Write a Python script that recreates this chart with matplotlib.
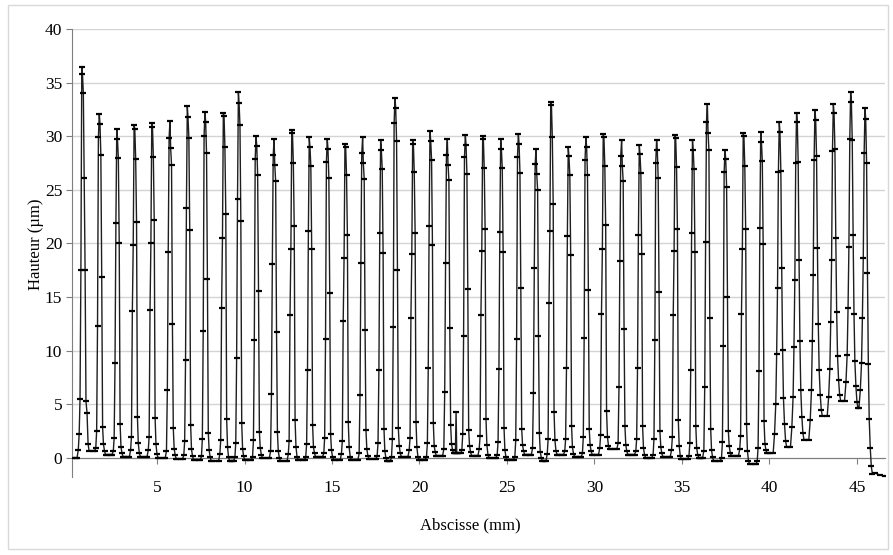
"""Profil de hauteur le long de l'abscisse (profilometre)."""
import matplotlib
matplotlib.use("Agg")
import matplotlib.pyplot as plt
from matplotlib.patches import Rectangle

plt.rcParams.update({
    "font.family": ["Liberation Serif", "DejaVu Serif"],
    "font.size": 12,
})

# ---- data ----
# x of each peak top (mm) and its height (um)
peak_x = [0.70, 1.70, 2.70, 3.69, 4.70, 5.74, 6.73, 7.74, 8.79, 9.65,
          10.66, 11.69, 12.70, 13.70, 14.73, 15.74, 16.75, 17.78, 18.60, 19.61,
          20.60, 21.59, 22.62, 23.61, 24.64, 25.65, 26.66, 27.50, 28.50, 29.51,
          30.50, 31.55, 32.56, 33.55, 34.60, 35.60, 36.45, 37.46, 38.50, 39.50,
          40.56, 41.55, 42.60, 43.65, 44.64, 45.46]
peak_top = [36.5, 32.1, 30.7, 31.0, 31.2, 31.4, 32.8, 32.3, 32.2, 34.1,
            30.0, 29.7, 30.6, 29.9, 29.7, 29.3, 29.9, 29.6, 33.6, 29.6,
            30.5, 29.7, 30.1, 30.0, 29.7, 30.2, 28.8, 33.2, 29.0, 29.9,
            30.2, 29.6, 29.2, 29.6, 30.1, 29.6, 33.0, 28.7, 30.3, 30.4,
            31.3, 32.2, 32.4, 33.0, 34.1, 32.6]
# which sampled shape each peak looks like (see shapes below)
peak_shape = ["F", "A", "C", "B", "B", "D", "C", "A", "B", "C",
              "A", "D", "B", "C", "A", "B", "D", "C", "A", "B",
              "C", "D", "A", "B", "C", "A", "D", "B", "C", "A",
              "B", "D", "C", "A", "B", "C", "D", "A", "B", "C",
              "E", "E", "E", "E", "E", "E"]
# valley level before the first peak, between peaks, after the last one
valley = [0.0, 0.6, 0.3, 0.1, 0.1, 0.0, -0.1, -0.2, -0.3, -0.3,
          -0.2, 0.0, -0.3, -0.2, 0.1, -0.2, -0.2, -0.1, -0.3, 0.1,
          -0.2, 0.2, 0.4, 0.2, 0.0, -0.2, 0.3, -0.3, 0.3, 0.1,
          0.3, 0.8, 0.3, 0.0, 0.1, -0.1, 0.0, -0.3, 0.2, -0.6,
          0.4, 1.0, 1.7, 3.9, 5.3, 4.6, -1.5]

# sample offsets around a peak top (mm)
rise_dx = [-0.35, -0.27, -0.20, -0.15, -0.10, -0.05, 0.00]
fall_dx = [0.04, 0.09, 0.14, 0.19, 0.24, 0.30, 0.36, 0.42]
# fraction of the peak height at those samples, read from typical peaks
rise_frac = {
    "A": [0.0, 0.0, 0.01, 0.06, 0.37, 0.93, 1.0],
    "B": [0.0, 0.0, 0.02, 0.06, 0.44, 0.64, 1.0],
    "C": [0.0, 0.0, 0.01, 0.05, 0.28, 0.71, 1.0],
    "D": [0.0, 0.0, 0.02, 0.20, 0.61, 0.95, 1.0],
    "E": [0.0, 0.06, 0.15, 0.30, 0.50, 0.85, 1.0],
    "F": [0.0, 0.0, 0.02, 0.06, 0.15, 0.48, 1.0],
}
fall_frac = {
    "A": [0.97, 0.88, 0.52, 0.08, 0.03, 0.01, 0.0, 0.0],
    "B": [0.99, 0.90, 0.71, 0.12, 0.04, 0.01, 0.0, 0.0],
    "C": [0.97, 0.91, 0.65, 0.10, 0.03, 0.01, 0.0, 0.0],
    "D": [0.92, 0.87, 0.40, 0.09, 0.03, 0.01, 0.0, 0.0],
    "E": [0.97, 0.85, 0.55, 0.30, 0.15, 0.07, 0.02, 0.0],
    "F": [0.98, 0.93, 0.71, 0.47, 0.13, 0.10, 0.02, 0.0],
}

# start of the trace, thin spike near 22 mm, tail after the last peak
head_x, head_y = [0.15], [0.0]
spike_x, spike_y = [22.05, 22.09, 22.13], [0.4, 4.3, 0.4]
tail_x, tail_y = [46.05, 46.30, 46.60], [-1.45, -1.60, -1.75]

# ---- build the trace ----
xs, ys = list(head_x), list(head_y)
for i, (px, top, sh) in enumerate(zip(peak_x, peak_top, peak_shape)):
    lo_l, lo_r = valley[i], valley[i + 1]
    for dx, f in zip(rise_dx, rise_frac[sh]):
        xs.append(px + dx)
        ys.append(lo_l + f * (top - lo_l))
    for dx, f in zip(fall_dx, fall_frac[sh]):
        xs.append(px + dx)
        ys.append(lo_r + f * (top - lo_r))
xs += spike_x + tail_x
ys += spike_y + tail_y
order = sorted(range(len(xs)), key=lambda k: xs[k])
xs = [xs[k] for k in order]
ys = [ys[k] for k in order]

# ---- figure ----
fig = plt.figure(figsize=(8.93, 5.55), dpi=100)
ax = fig.add_axes([0.0806, 0.1405, 0.9104, 0.8072])

ax.plot(xs, ys, color="#1e1e1e", lw=1.0, marker="_", ms=5, mew=1.6,
        mec="black", zorder=3)

ax.set_xlim(0.14, 46.6)
ax.set_ylim(-1.8, 40)
ax.set_xticks(range(5, 46, 5))
ax.set_yticks(range(0, 41, 5))
ax.yaxis.grid(True, color="#d4d4d4", lw=1.0)
ax.set_axisbelow(True)

for s in ("top", "right"):
    ax.spines[s].set_visible(False)
ax.spines["bottom"].set_position(("data", 0))
ax.spines["bottom"].set_color("#7f7f7f")
ax.spines["left"].set_color("#7f7f7f")
ax.tick_params(axis="x", length=4, pad=12, color="#7f7f7f", labelsize=12.5)
ax.tick_params(axis="y", length=4, pad=3, color="#7f7f7f", labelsize=12.5)

ax.set_xlabel("Abscisse (mm)", fontsize=12)
ax.xaxis.set_label_coords(0.49, -0.09)
ax.set_ylabel("Hauteur (µm)", fontsize=12)
ax.yaxis.set_label_coords(-0.035, 0.52)

fig.patches.append(Rectangle((8 / 893, 1 - 549 / 555), 880 / 893, 544 / 555,
                             transform=fig.transFigure, fill=False,
                             ec="#d9d9d9", lw=1.0))

fig.savefig("out.png", dpi=100, facecolor="white")
